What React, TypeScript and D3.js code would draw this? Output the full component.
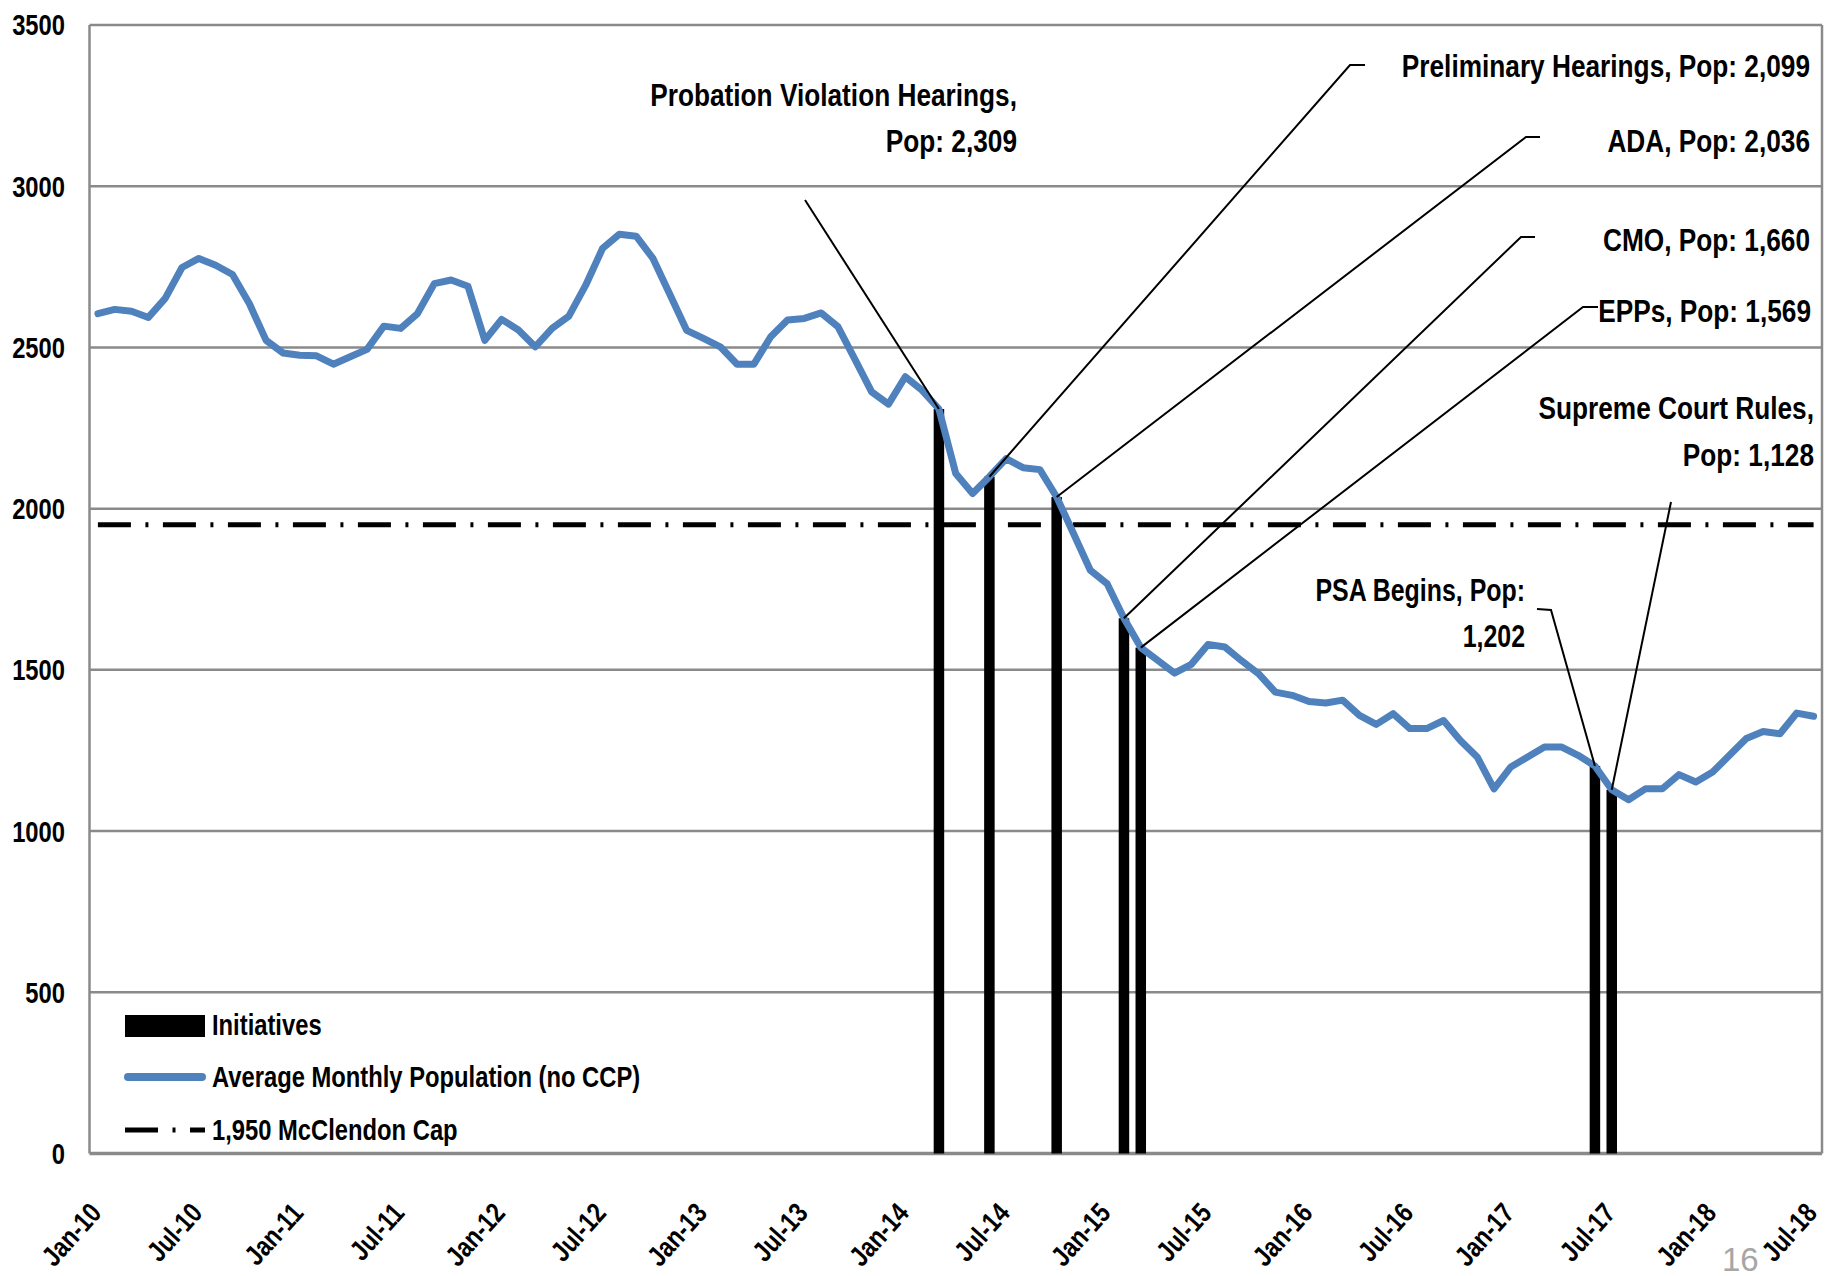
import React, { useEffect } from "react";
import * as d3 from "d3";

// ---------- DATA ----------
const startMonth = new Date(2010, 0, 1);
const endMonth = new Date(2018, 6, 1);
const months: Date[] = d3.timeMonth.range(startMonth, d3.timeMonth.offset(endMonth, 1));
const monthKeys: string[] = months.map((d) => d3.timeFormat("%Y-%m")(d));

// Average Monthly Population (no CCP), Jan-10 .. Jul-18
const population: number[] = [
  2605, 2618, 2612, 2593, 2652, 2748, 2776, 2755, 2726, 2636, 2522, 2483,
  2476, 2474, 2448, 2471, 2494, 2566, 2559, 2605, 2698, 2709, 2690, 2522,
  2587, 2554, 2502, 2559, 2597, 2693, 2807, 2851, 2845, 2776, 2665, 2553,
  2528, 2502, 2448, 2448, 2533, 2585, 2590, 2607, 2564, 2464, 2362, 2324,
  2409, 2367, 2309, 2109, 2047, 2099, 2155, 2127, 2121, 2036, 1923, 1809,
  1767, 1660, 1569, 1530, 1490, 1517, 1579, 1571, 1528, 1488, 1431, 1421,
  1402, 1397, 1406, 1359, 1331, 1364, 1318, 1318, 1343, 1281, 1230, 1131,
  1199, 1230, 1261, 1261, 1235, 1202, 1128, 1097, 1131, 1131, 1175, 1152,
  1183, 1235, 1287, 1309, 1302, 1366, 1356,
];

const initiativeMonths: string[] = ["2014-03", "2014-06", "2014-10", "2015-02", "2015-03", "2017-06", "2017-07"];
const initiativeValues: number[] = [2309, 2099, 2036, 1660, 1569, 1202, 1128];

const capValue = 1950;
const yTicks: number[] = [0, 500, 1000, 1500, 2000, 2500, 3000, 3500];
const xTickKeys: string[] = monthKeys.filter((_, i) => i % 6 === 0);
const xTickLabels: string[] = months.filter((_, i) => i % 6 === 0).map((d) => d3.timeFormat("%b-%y")(d));

const annotationTexts: string[][] = [
  ["Probation Violation Hearings,", "Pop: 2,309"],
  ["Preliminary Hearings, Pop: 2,099"],
  ["ADA, Pop: 2,036"],
  ["CMO, Pop: 1,660"],
  ["EPPs, Pop: 1,569"],
  ["PSA Begins, Pop:", "1,202"],
  ["Supreme Court Rules,", "Pop: 1,128"],
];

const legendLabels: string[] = ["Initiatives", "Average Monthly Population (no CCP)", "1,950 McClendon Cap"];

// ---------- LAYOUT ----------
const W = 1825;
const H = 1276;
const plot = { left: 89.5, right: 1822, top: 25, bottom: 1153.5 };
const FONT = '"Liberation Sans", Arial, sans-serif';
const NARROW = 0.82; // horizontal squeeze -> narrow face
const BLUE = "#4F81BD";
const GRID = "#8a8a8a";
const CAP_DASH = "33 14.5 3 14.5";

// label layout: right-edge x, baselines, leader points (label side)
const annotationLayout = [
  { x: 1017, ys: [106, 152], leader: [[805, 200]], squeeze: 1 },
  { x: 1810, ys: [77], leader: [[1365, 65], [1350, 65]], squeeze: 1 },
  { x: 1810, ys: [152], leader: [[1540, 137], [1526, 137]], squeeze: 1 },
  { x: 1810, ys: [251], leader: [[1535, 237], [1521, 237]], squeeze: 1 },
  { x: 1811, ys: [322], leader: [[1598, 307], [1583, 307]], squeeze: 1 },
  { x: 1525, ys: [601, 647], leader: [[1537, 609], [1551, 610]], squeeze: 0.95 },
  { x: 1814, ys: [419, 466], leader: [[1671, 502]], squeeze: 1 },
];

type NTProps = {
  x: number;
  y: number;
  size: number;
  anchor?: "start" | "end" | "middle";
  rotate?: number;
  weight?: number;
  fill?: string;
  dy?: string;
  squeeze?: number;
  children: React.ReactNode;
};

function NText({ x, y, size, anchor = "start", rotate = 0, weight = 700, fill = "#000", dy, squeeze = 1, children }: NTProps) {
  return (
    <text
      transform={`translate(${x},${y}) rotate(${rotate}) scale(${NARROW * squeeze},1)`}
      textAnchor={anchor}
      fontFamily={FONT}
      fontWeight={weight}
      fontSize={size}
      fill={fill}
      dy={dy}
    >
      {children}
    </text>
  );
}

export default function App() {
  useEffect(() => {
    document.body.style.margin = "0";
  }, []);

  const x = d3.scalePoint<string>().domain(monthKeys).range([plot.left, plot.right]).padding(0.5);
  const y = d3.scaleLinear().domain([0, 3500]).range([plot.bottom, plot.top]);

  const line = d3
    .line<number>()
    .x((_, i) => x(monthKeys[i]) as number)
    .y((d) => y(d));

  const barW = 10.5;
  const firstX = x(monthKeys[0]) as number;
  const lastX = x(monthKeys[monthKeys.length - 1]) as number;

  const legendX = 125;
  const legendTextX = 212;

  return (
    <svg
      width={W}
      height={H}
      viewBox={`0 0 ${W} ${H}`}
      style={{ display: "block", position: "absolute", left: 0, top: 0, background: "#fff" }}
    >
      <rect x={0} y={0} width={W} height={H} fill="#fff" />

      {/* gridlines */}
      {yTicks.map((t) => (
        <line
          key={`g${t}`}
          x1={plot.left}
          x2={plot.right}
          y1={y(t)}
          y2={y(t)}
          stroke={GRID}
          strokeWidth={t === 0 ? 3.5 : 2.5}
        />
      ))}
      {/* plot borders */}
      <line x1={plot.left} x2={plot.left} y1={plot.top} y2={plot.bottom} stroke={GRID} strokeWidth={2.5} />
      <line x1={plot.right} x2={plot.right} y1={plot.top} y2={plot.bottom} stroke={GRID} strokeWidth={2.5} />

      {/* y labels */}
      {yTicks.map((t) => (
        <NText key={`yl${t}`} x={65} y={y(t)} dy="0.36em" anchor="end" size={29}>
          {t}
        </NText>
      ))}

      {/* x labels */}
      {xTickKeys.map((k, i) => (
        <NText key={`xl${k}`} x={(x(k) as number) + 5} y={1214} anchor="end" rotate={-48} size={28}>
          {xTickLabels[i]}
        </NText>
      ))}

      {/* cap line */}
      <line
        x1={firstX}
        x2={lastX}
        y1={y(capValue)}
        y2={y(capValue)}
        stroke="#000"
        strokeWidth={5}
        strokeDasharray={CAP_DASH}
      />

      {/* initiatives bars */}
      {initiativeMonths.map((m, i) => (
        <rect
          key={`b${m}`}
          x={(x(m) as number) - barW / 2}
          y={y(initiativeValues[i])}
          width={barW}
          height={y(0) - y(initiativeValues[i])}
          fill="#000"
        />
      ))}

      {/* population line */}
      <path
        d={line(population) || ""}
        fill="none"
        stroke={BLUE}
        strokeWidth={7}
        strokeLinejoin="round"
        strokeLinecap="round"
      />

      {/* annotations */}
      {annotationTexts.map((lines, i) => {
        const lay = annotationLayout[i];
        const px = x(initiativeMonths[i]) as number;
        const py = y(initiativeValues[i]);
        const pts = [...lay.leader, [px, py]];
        return (
          <g key={`a${i}`}>
            <polyline
              points={pts.map((p) => p.join(",")).join(" ")}
              fill="none"
              stroke="#000"
              strokeWidth={2}
            />
            {lines.map((s, j) => (
              <NText key={j} x={lay.x} y={lay.ys[j]} anchor="end" size={32} squeeze={lay.squeeze}>
                {s}
              </NText>
            ))}
          </g>
        );
      })}

      {/* legend */}
      <rect x={legendX} y={1015} width={80} height={22} fill="#000" />
      <NText x={legendTextX} y={1035} size={29}>
        {legendLabels[0]}
      </NText>
      <line x1={legendX + 3} x2={legendX + 77} y1={1077} y2={1077} stroke={BLUE} strokeWidth={8} strokeLinecap="round" />
      <NText x={legendTextX} y={1087} size={29}>
        {legendLabels[1]}
      </NText>
      <line
        x1={legendX}
        x2={legendX + 80}
        y1={1130}
        y2={1130}
        stroke="#000"
        strokeWidth={5}
        strokeDasharray={CAP_DASH}
      />
      <NText x={legendTextX} y={1140} size={29}>
        {legendLabels[2]}
      </NText>

      {/* page number */}
      <text x={1722} y={1271} fontFamily={FONT} fontSize={33} fill="#a6a6a6">
        16
      </text>
    </svg>
  );
}
